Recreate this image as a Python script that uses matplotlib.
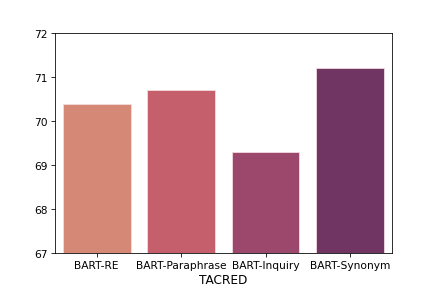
import matplotlib
matplotlib.use("Agg")
import matplotlib.pyplot as plt

# data
models = ['BART-RE', 'BART-Paraphrase', 'BART-Inquiry', 'BART-Synonym']
scores = [70.4, 70.7, 69.3, 71.2]
colors = ['#d68876', '#c45f6b', '#9c476c', '#713564']

fig = plt.figure(figsize=(6, 4), dpi=72.67)
ax = fig.add_subplot(111)
fig.subplots_adjust(left=0.125, right=0.9, top=0.883, bottom=0.127)

x = range(len(models))
ax.bar(x, [s - 67 for s in scores], bottom=67, width=0.8, color=colors,
       edgecolor='#f2dede', linewidth=0.8)
ax.set_xticks(list(x))
ax.set_xticklabels(models)
ax.set_xlim(-0.5, len(models) - 0.5)
ax.set_ylim(67, 72)
ax.tick_params(labelsize=10.5)
ax.set_xlabel('TACRED', fontsize=12, labelpad=3)

fig.savefig('out.png', dpi=72.67)
